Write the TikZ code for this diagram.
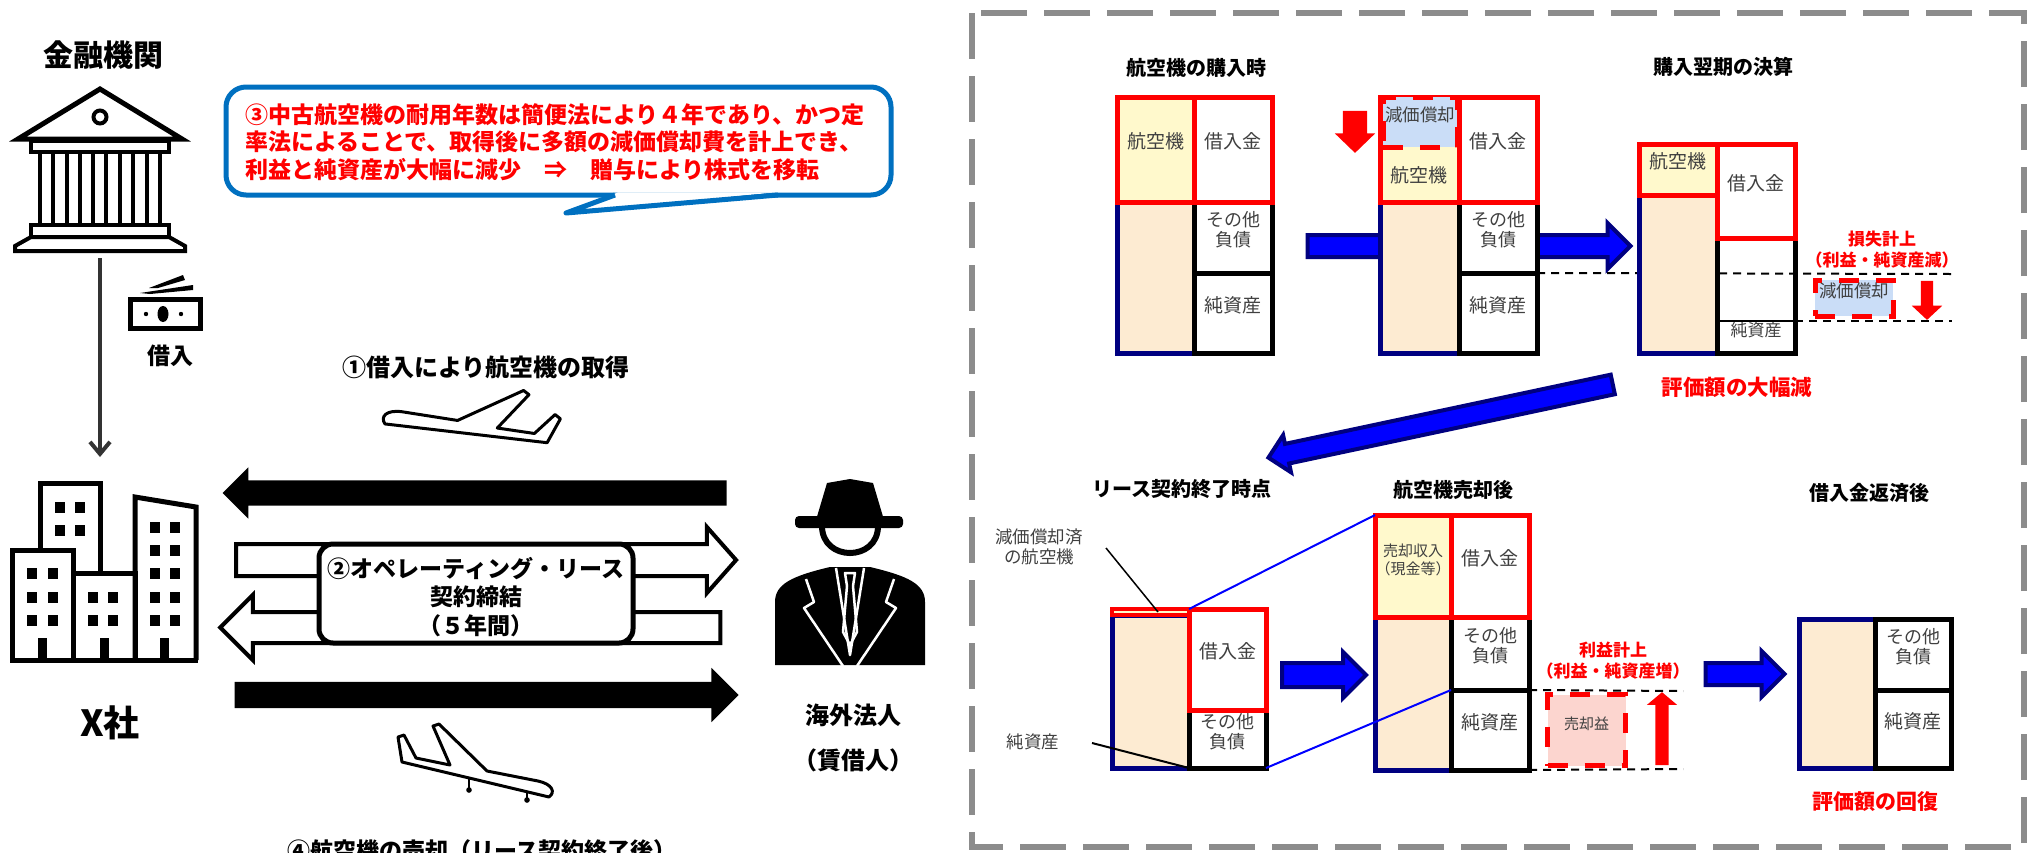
\documentclass[tikz,border=0pt]{standalone}
\usepackage{fontspec}
\setmainfont{Noto Sans CJK JP}
\usetikzlibrary{arrows.meta, shapes.arrows, positioning, fit, calc}
\definecolor{colorRed}{HTML}{FF0000}
\definecolor{colorNavy}{HTML}{000080}
\definecolor{colorBlue}{HTML}{0000FF}
\definecolor{colorBubble}{HTML}{0070C0}
\definecolor{colorAsset}{HTML}{FFF9CC}
\definecolor{colorPeach}{HTML}{FDEBD2}
\definecolor{colorDepr}{HTML}{CADDF7}
\definecolor{colorGain}{HTML}{FCD5CF}
\definecolor{colorFrame}{HTML}{8C8C8C}
\definecolor{colorLabel}{HTML}{404040}
\newcommand\sz[2]{\fontsize{#1}{#2}\selectfont}
% jet outline, nose to the lower right
\newcommand\jet{(398,737) -- (404,735) -- (416,758) -- (450,765) -- (433,726) -- (439,724)
    -- (487,771) -- (538,781) .. controls (552,784) and (556,792) .. (549,797) -- (402,762) -- cycle}

\begin{document}
\begin{tikzpicture}[x=1pt, y=-1pt, >=Latex,
        bs/.style={inner sep=0pt, outer sep=0pt, line width=5pt, text=colorLabel,
            align=center, font=\sz{19}{21}},
        asset/.style={bs, draw=colorRed, fill=colorAsset},
        debt/.style={bs, draw=colorRed, fill=white},
        liab/.style={bs, draw=black, fill=white},
        rest/.style={bs, draw=colorNavy, fill=colorPeach},
        cut/.style={bs, draw=colorRed, dash pattern=on 20pt off 17pt, font=\sz{17.5}{20}},
        title/.style={font=\sz{20}{22}\bfseries},
        note/.style={font=\sz{17}{21}\bfseries, text=colorRed, align=center},
        hint/.style={font=\sz{17.5}{20}, text=colorLabel, align=center},
        big/.style={font=\sz{#1}{#1}\bfseries, align=center},
        % block arrows: shaft = 2*inner ysep, head = shaft + 2*extend
        blk/.style 2 args={single arrow, inner xsep=0pt, inner ysep=#1, outer sep=0pt,
            single arrow head extend=#2},
        barr/.style={draw=colorNavy, fill=colorBlue, line width=4pt},
        rarr/.style={fill=colorRed},
        karr/.style={fill=black},
        warr/.style={draw=black, fill=white, line width=4pt},
        lvl/.style={line width=2pt, dash pattern=on 8pt off 6pt},
        plane/.style={draw=black, fill=white, line width=3pt, line join=round}]
    \useasboundingbox (0,0) rectangle (2033,852);

    % ---------- left: money flow ----------
    \node[big=30] (fin) at (103,55) {金融機関};
    % bank
    \begin{scope}[line width=4pt]
        \draw[line width=5pt] (18,139) -- (100,89) -- (182,139) -- cycle;
        \draw (100,117) circle (6.5);
        \draw (31,141) rectangle (169,152);
        \foreach \c in {40,67,93,120,147}
            \draw[line width=3.5pt] (\c,152) rectangle (\c+13,225);
        \draw (31,225) rectangle (169,237);
        \draw (31,237) -- (169,237) -- (185,246) -- (185,251) -- (15,251) -- (15,246) -- cycle;
    \end{scope}
    % banknote
    \fill (140,293) -- (193,285) -- (193,290) -- (150,294) -- cycle;
    \fill (149,288) -- (183,275) -- (185,280) -- (158,288) -- cycle;
    \draw[line width=5pt] (130,299) rectangle (200,328);
    \fill (163,314) ellipse (5.5 and 8);
    \fill (146,314) circle (2.2) (181,314) circle (2.2);
    \node[big=23] (loan) at (170,356) {借入};
    \coordinate (bankfoot) at (100,258);
    \coordinate (bldtop) at (100,457);
    \draw[line width=4pt, black!80, -{Straight Barb[length=12pt, width=20pt]}] (bankfoot) -- (bldtop);

    % buildings
    \begin{scope}[line width=5pt]
        \draw (40,549) |- (100,483) -- (100,573);
        \draw (12,660) |- (73,550) -- (73,660);
        \draw (73,573) -| (135,660);
        \draw (135,660) -- (135,497) -- (196,507) -- (196,660);
        \draw (10,660) -- (198,660);
    \end{scope}
    \foreach \x/\y in {55/502,75/502,55/525,75/525,
                       27/568,48/568,27/592,48/592,27/615,48/615,
                       88/592,108/592,88/615,108/615,
                       150/522,170/522,150/545,170/545,150/568,170/568,150/592,170/592,150/615,170/615}
        \fill (\x,\y) rectangle ++(10,11);
    \foreach \x in {38,100,160}
        \fill (\x,638) rectangle ++(9,22);
    \node[big=36] (xco) at (110,723) {X社};

    % lessee
    \fill (816,520) -- (827,483) -- (850,479) -- (873,483) -- (884,520) -- cycle;
    \fill[rounded corners=4pt] (795,516) rectangle (903,528);
    \draw[line width=6pt] (822,526) .. controls (822,562) and (878,562) .. (878,526);
    \fill (775,665) -- (775,602) .. controls (775,584) and (792,576) .. (830,567)
        -- (870,567) .. controls (908,576) and (925,584) .. (925,602) -- (925,665) -- cycle;
    \begin{scope}[white, line width=2.5pt, line join=round]
        \draw (806,579) -- (814,602) -- (804,608) -- (843,666);
        \draw (894,579) -- (886,602) -- (896,608) -- (857,666);
        \draw (836,568) -- (850,655) -- (864,568);
        \draw (845,573) -- (855,573) -- (853,586) -- (857,632) -- (850,645) -- (843,632) -- (847,586) -- cycle;
    \end{scope}
    \node[big=24] (lessee) at (853,715) {海外法人};
    \node[big=24] (lessee2) at (853,760) {（賃借人）};

    % flows between the company and the lessee
    \node[blk={12.5pt}{13pt}, karr, rotate=180, minimum height=504pt] (acq) at (481,493) {};
    \node[blk={14pt}{17pt}, warr, minimum height=500pt, single arrow tip angle=97] (lease) at (479,560) {};
    \node[blk={13.5pt}{17pt}, warr, rotate=180, minimum height=500pt] (rent) at (478,627.5) {};
    \node[blk={13pt}{14pt}, karr, minimum height=504pt] (sale) at (480,695) {};
    \node[draw, line width=5pt, fill=white, rounded corners=14pt, inner sep=0pt,
        fit={(319,544) (633,643)}] (contract) {};
    \node[font=\sz{23}{28.5}\bfseries, align=center] (contractTxt) at (476,597)
        {②オペレーティング・リース\\契約締結\\（５年間）};

    \node[big=24] (step1) at (486,367) {①借入により航空機の取得};
    \node[big=23] (step4) at (482,851) {④航空機の売却（リース契約終了後）};

    % planes
    \begin{scope}[shift={(471,415)}, rotate=-20, xscale=-1.08, yscale=1.08, shift={(-477,-762)}]
        \draw[plane] \jet;
    \end{scope}
    \draw[line width=2pt] (469,779) -- (469,788) (527,792) -- (527,798);
    \fill (469,790) circle (2.8) (527,800) circle (2.8);
    \draw[plane] \jet;

    % speech bubble
    \node[draw=colorBubble, line width=5pt, rounded corners=20pt, inner sep=0pt,
        fit={(226,87) (891,195)}] (bubble) {};
    \fill[white] (618,192.4) -- (566,213) -- (775,192.4) -- cycle;
    \draw[colorBubble, line width=5pt, line join=round] (615,195) -- (566,213) -- (778,195);
    \node[anchor=west, align=left, inner sep=0pt, text=colorRed, font=\sz{23}{27.5}\bfseries]
        (memo) at (245,142)
        {③中古航空機の耐用年数は簡便法により４年であり、かつ定\\
         率法によることで、取得後に多額の減価償却費を計上でき、\\
         利益と純資産が大幅に減少　⇒　贈与により株式を移転};

    % ---------- right: balance sheets ----------
    \draw[colorFrame, line width=6pt, dash pattern=on 46pt off 17pt] (972,13) rectangle (2024,847);

    \node[title] (t1) at (1196,68) {航空機の購入時};
    \node[title] (t2) at (1723,67) {購入翌期の決算};
    \node[title] (t3) at (1182,489) {リース契約終了時点};
    \node[title] (t4) at (1453,490) {航空機売却後};
    \node[title] (t5) at (1869,493) {借入金返済後};

    % at purchase
    \node[rest, fit={(1117,202) (1194,353)}] (p1) {};
    \node[liab, fit={(1194,202) (1272,273)}, font=\sz{18}{20}] (o1) {その他\\負債};
    \node[liab, fit={(1194,273) (1272,353)}] (n1) {純資産};
    \node[asset, fit={(1117,97) (1194,202)}] (a1) {航空機};
    \node[debt, fit={(1194,97) (1272,202)}] (d1) {借入金};

    \node[blk={9pt}{12pt}, barr, minimum height=323pt] (m1) at (1463.5,246) {};

    \node[rest, fit={(1380,202) (1459,353)}] (p2) {};
    \node[liab, fit={(1459,202) (1537,273)}, font=\sz{18}{20}] (o2) {その他\\負債};
    \node[liab, fit={(1459,273) (1537,353)}] (n2) {純資産};
    \node[asset, fit={(1380,97) (1459,202)}] (a2) {};
    \node[debt, fit={(1459,97) (1537,202)}] (d2) {借入金};
    \node[cut, fill=colorDepr, fit={(1383,97) (1457,147)}] (x2) {減価償却};
    \node[bs] at (1419,175) {航空機};
    \node[blk={12pt}{8pt}, rarr, rotate=-90, minimum height=42pt,
        single arrow tip angle=92] (dn2) at (1355,126) {};

    % next closing
    \coordinate (lv1) at (1952,274);
    \draw[lvl] (o2.south east) -- (lv1);
    \node[rest, fit={(1639,195) (1717,353)}] (p3) {};
    \node[liab, fill=none, fit={(1717,238) (1795,353)}] (o3) {};
    \node[bs, fit={(1717,321) (1795,353)}, font=\sz{17}{19}] (n3) {純資産};
    \draw[line width=2pt] (n3.north west) -- (n3.north east);
    \coordinate (lv2) at (1952,321);
    \draw[lvl] (n3.north east) -- (lv2);
    \node[asset, fit={(1639,144) (1717,195)}] (a3) {航空機};
    \node[debt, fit={(1717,144) (1795,238)}] (d3) {借入金};
    \node[note] (loss) at (1882,249.5) {損失計上\\（利益・純資産減）};
    \node[cut, fill=colorDepr, fit={(1815,280) (1893,316)}] (x3) {減価償却};
    \node[blk={6pt}{9pt}, rarr, rotate=-90, minimum height=39pt,
        single arrow tip angle=94] (dn3) at (1927,297.5) {};
    \node[big=21.5, text=colorRed] (drop) at (1737,387) {評価額の大幅減};

    \node[blk={8pt}{9pt}, barr, rotate=192, minimum height=352pt] (m2) at (1445.5,420) {};

    % end of lease
    \node[rest, fit={(1112,615) (1189,768)}] (p4) {};
    \node[liab, fit={(1189,710) (1266,768)}, font=\sz{18}{20}] (o4) {その他\\負債};
    \node[bs, draw=colorRed, fill=colorAsset, line width=4pt, fit={(1112,609) (1189,615)}] (a4) {};
    \node[debt, fit={(1189,609) (1266,710)}] (d4) {借入金};
    \node[hint] (dlbl) at (1039,547) {減価償却済\\の航空機};
    \node[hint] (nlbl) at (1033,742) {純資産};
    \coordinate (dfoot) at (1106,548);
    \coordinate (dtip) at (1158,612);
    \coordinate (nfoot) at (1092,743);
    \draw[line width=1.5pt] (dfoot) -- (dtip);
    \draw[line width=2pt] (nfoot) -- (o4.south west);

    \node[blk={10pt}{11pt}, barr, minimum height=84pt] (m3) at (1318,675) {};

    % after sale
    \node[rest, fit={(1375,617) (1451,770)}] (p5) {};
    \node[liab, fit={(1451,617) (1529,690)}, font=\sz{18}{20}] (o5) {その他\\負債};
    \node[liab, fit={(1451,690) (1529,770)}] (n5) {純資産};
    \node[asset, fit={(1375,515) (1451,617)}, font=\sz{15}{18}] (a5) {売却収入\\（現金等）};
    \node[debt, fit={(1451,515) (1529,617)}] (d5) {借入金};
    \draw[colorBlue, line width=2pt] (d4.north west) -- (a5.north west);
    \draw[colorBlue, line width=2pt] (o4.south east) -- (n5.north west);

    \coordinate (lv3) at (1683,691);
    \coordinate (lv4) at (1683,769);
    \draw[lvl] (n5.north east) -- (lv3);
    \draw[lvl] (n5.south east) -- (lv4);
    \node[note] (gain) at (1613,660.5) {利益計上\\（利益・純資産増）};
    \node[cut, fill=colorGain, fit={(1547.5,694.5) (1625.5,765.5)}, font=\sz{15}{18}] (x5) {売却益};
    \node[blk={6.5pt}{8.5pt}, rarr, rotate=90, minimum height=73pt,
        single arrow tip angle=100] (up5) at (1662,731.5) {};

    \node[blk={9pt}{12pt}, barr, minimum height=79pt] (m4) at (1739.5,674) {};

    % after repayment
    \node[rest, fit={(1799,619) (1875,768)}] (p6) {};
    \node[liab, fit={(1875,619) (1951,690)}, font=\sz{18}{20}] (o6) {その他\\負債};
    \node[liab, fit={(1875,690) (1951,768)}] (n6) {純資産};
    \node[big=21, text=colorRed] (back) at (1875,802) {評価額の回復};
\end{tikzpicture}
\end{document}
